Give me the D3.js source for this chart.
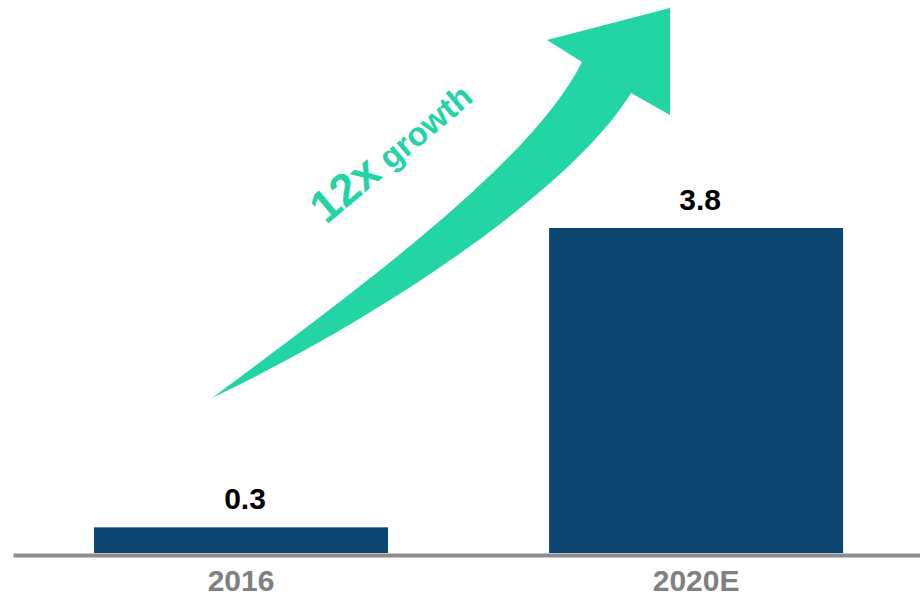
<!DOCTYPE html>
<html>
<head>
<meta charset="utf-8">
<script src="https://cdn.jsdelivr.net/npm/d3@7"></script>
<style>
  body { margin: 0; background: #fff; }
  svg { display: block; font-family: "Liberation Sans", Arial, sans-serif; }
</style>
</head>
<body>
<script>
// chart data
var categories = ["2016", "2020E"];
var values = [0.3, 3.8];
var valueLabels = ["0.3", "3.8"];
var growthLabel = ["12x", "growth"];

var width = 920, height = 599;
var baseY = 553;

var svg = d3.select("body").append("svg")
    .attr("width", width)
    .attr("height", height);

// scales
var x = d3.scaleBand()
    .domain(categories)
    .range([13, 920])
    .paddingInner(0.354)
    .paddingOuter(0.1736)
    .align(0.513);

var y = d3.scaleLinear()
    .domain([0, 3.8])
    .range([baseY, 228]);

// growth arrow (decoration)
var arrow = d3.path();
arrow.moveTo(212, 398);
arrow.bezierCurveTo(362, 286, 532, 162, 582, 62);
arrow.lineTo(547, 40);
arrow.lineTo(670, 8);
arrow.lineTo(670, 115);
arrow.lineTo(631, 93);
arrow.bezierCurveTo(575, 185, 392, 312, 212, 398);
arrow.closePath();

svg.append("path")
    .attr("d", arrow.toString())
    .attr("fill", "#23d4a4");

var gt = svg.append("text")
    .attr("transform", "translate(326,225) rotate(-40)")
    .attr("fill", "#23d4a4")
    .attr("font-weight", "bold");
gt.append("tspan").attr("font-size", 45).text(growthLabel[0]);
gt.append("tspan").attr("font-size", 33).text(" " + growthLabel[1]);

// bars
svg.selectAll(".bar")
    .data(values)
  .enter().append("rect")
    .attr("class", "bar")
    .attr("x", function(d, i) { return x(categories[i]); })
    .attr("y", function(d) { return y(d); })
    .attr("width", x.bandwidth())
    .attr("height", function(d) { return y(0) - y(d); })
    .attr("fill", "#0c4570");

// value labels
svg.selectAll(".val")
    .data(values)
  .enter().append("text")
    .attr("class", "val")
    .attr("x", function(d, i) { return x(categories[i]) + x.bandwidth() / 2 + 4; })
    .attr("y", function(d) { return y(d) - 18; })
    .attr("text-anchor", "middle")
    .attr("font-size", 30)
    .attr("font-weight", "bold")
    .attr("fill", "#000")
    .text(function(d, i) { return valueLabels[i]; });

// x axis
var xAxis = svg.append("g")
    .attr("transform", "translate(0," + (baseY + 2) + ")")
    .call(d3.axisBottom(x).tickSize(0).tickSizeOuter(0).tickPadding(15));

xAxis.select(".domain")
    .attr("stroke", "#8c8c8c")
    .attr("stroke-width", 4);

xAxis.selectAll("text")
    .attr("font-family", "Liberation Sans, Arial, sans-serif")
    .attr("font-size", 30)
    .attr("font-weight", "bold")
    .attr("fill", "#808080");
</script>
</body>
</html>
